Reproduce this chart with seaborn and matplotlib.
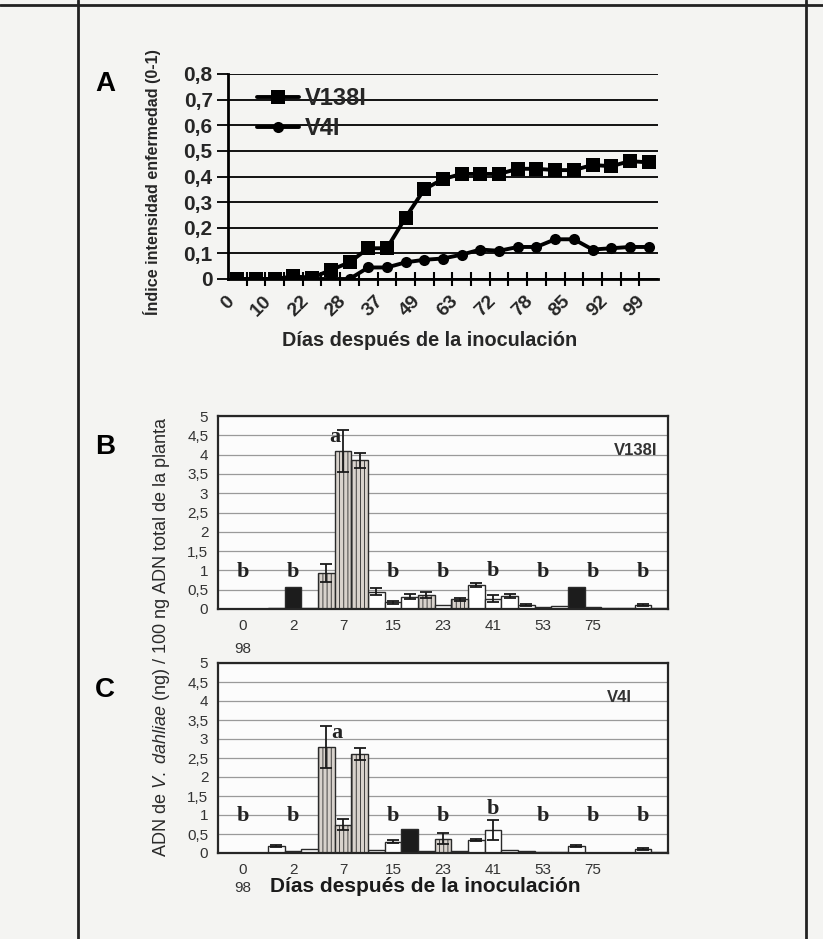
import matplotlib
matplotlib.use('Agg')
import numpy as np
import pandas as pd
import matplotlib.pyplot as plt
import seaborn as sns
from matplotlib.ticker import FuncFormatter, FixedLocator
from matplotlib.lines import Line2D

# ---------------- data ----------------
a_labels = ['0', '10', '22', '28', '37', '49', '63', '72', '78', '85', '92', '99']
a_v138i = [0.0, 0.0, 0.0, 0.01, 0.005, 0.035, 0.065, 0.12, 0.12, 0.24, 0.35, 0.39,
           0.41, 0.41, 0.41, 0.43, 0.43, 0.425, 0.425, 0.445, 0.44, 0.46, 0.455]
a_v4i = [0.0, 0.0, 0.0, 0.0, 0.0, 0.0, 0.0, 0.045, 0.045, 0.065, 0.075, 0.08,
         0.095, 0.115, 0.11, 0.125, 0.125, 0.155, 0.155, 0.115, 0.12, 0.125, 0.125]
series_names = ['V138I', 'V4I']

bc_days = ['0', '2', '7', '15', '23', '41', '53', '75', '98']
b_values = [0.0, 0.0, 0.0, 0.03, 0.57, 0.03, 0.93, 4.1, 3.85, 0.45, 0.17, 0.32,
            0.36, 0.1, 0.25, 0.62, 0.27, 0.33, 0.1, 0.06, 0.07, 0.58, 0.04, 0.03,
            0.03, 0.11, 0.03]
b_errors = [0, 0, 0, 0, 0, 0, 0.24, 0.55, 0.2, 0.1, 0.03, 0.06,
            0.07, 0, 0.04, 0.06, 0.08, 0.05, 0.02, 0, 0, 0, 0, 0,
            0, 0.02, 0]
b_fills = list('wwwwkwgggwwwgwgwwwwwwkwwwww')
b_letters = ['b', 'b', 'a', 'b', 'b', 'b', 'b', 'b', 'b']
b_tag = 'V138I'

c_values = [0.0, 0.0, 0.0, 0.19, 0.04, 0.1, 2.8, 0.75, 2.6, 0.08, 0.3, 0.62,
            0.05, 0.38, 0.05, 0.34, 0.6, 0.08, 0.04, 0.03, 0.03, 0.18, 0.01, 0.01,
            0.01, 0.1, 0.02]
c_errors = [0, 0, 0, 0.02, 0, 0, 0.55, 0.15, 0.16, 0, 0.03, 0,
            0, 0.15, 0, 0.02, 0.27, 0, 0, 0, 0, 0.02, 0, 0,
            0, 0.02, 0]
c_fills = list('wwwwwwgggwwkwgwwwwwwwwwwwww')
c_letters = ['b', 'b', 'a', 'b', 'b', 'b', 'b', 'b', 'b']
c_tag = 'V4I'

xlabel_txt = 'Días después de la inoculación'
ylabel_a = 'Índice intensidad enfermedad (0-1)'
ylabel_bc = r'ADN de $\mathit{V.\ dahliae}$ (ng) / 100 ng ADN total de la planta'

# ---------------- style ----------------
sns.set_style('white')
plt.rcParams['font.family'] = ['Liberation Sans', 'DejaVu Sans']
plt.rcParams['mathtext.fontset'] = 'custom'
plt.rcParams['mathtext.rm'] = 'Liberation Sans'
plt.rcParams['mathtext.it'] = 'Liberation Sans:italic'
plt.rcParams['hatch.linewidth'] = 0.6
plt.rcParams['hatch.color'] = '#a59e97'

W, H = 823, 939
fig = plt.figure(figsize=(W / 100, H / 100), dpi=100, facecolor='#f4f4f2')


def rect(x0, x1, y0, y1):
    return [x0 / W, 1 - y1 / H, (x1 - x0) / W, (y1 - y0) / H]


axA = fig.add_axes(rect(228, 658, 74, 279))
axB = fig.add_axes(rect(218, 668, 416, 609))
axC = fig.add_axes(rect(218, 668, 663, 853))

comma = FuncFormatter(lambda v, p: ('%g' % round(v, 2)).replace('.', ','))

# ---------------- panel A ----------------
n = len(a_v138i)
dfA = pd.DataFrame({'idx': list(range(n)) * 2,
                    'value': a_v138i + a_v4i,
                    'serie': [series_names[0]] * n + [series_names[1]] * n})
sns.lineplot(data=dfA, x='idx', y='value', hue='serie', style='serie',
             markers={series_names[0]: 's', series_names[1]: 'o'}, dashes=False,
             palette={series_names[0]: 'black', series_names[1]: 'black'},
             linewidth=2.8, markersize=9.5, markeredgewidth=0, ax=axA, legend=False)
for ln in axA.lines:
    if ln.get_marker() == 'o':
        ln.set_markersize(8)
axA.set_facecolor('none')
axA.set_xlim(-0.5, n - 0.5)
axA.set_ylim(0, 0.8)
axA.set_yticks(np.arange(0, 0.81, 0.1))
axA.yaxis.set_major_formatter(comma)
axA.yaxis.grid(True, color='black', lw=1.3)
axA.set_axisbelow(True)
axA.set_xticks(range(0, n, 2))
axA.set_xticklabels(a_labels, rotation=45, ha='right', va='top',
                    fontsize=14, fontweight='bold')
axA.xaxis.set_minor_locator(FixedLocator([i + 0.5 for i in range(n - 1)]))
axA.tick_params(axis='x', which='major', length=0, pad=10)
axA.tick_params(axis='x', which='minor', length=10, width=1.5,
                direction='inout', bottom=True, color='black')
axA.tick_params(axis='y', length=8, width=1.3, direction='out', left=True,
                color='black', pad=3, labelsize=15)
for lab in axA.get_yticklabels():
    lab.set_fontweight('bold')
for s in ['top', 'right']:
    axA.spines[s].set_visible(False)
for s in ['left', 'bottom']:
    axA.spines[s].set_linewidth(2)
    axA.spines[s].set_color('black')
axA.set_xlabel(xlabel_txt, fontsize=14.3, fontweight='bold')
axA.xaxis.set_label_coords((430 - 228) / 430, (279 - 340) / 205)
axA.xaxis.label.set_va('center')
axA.set_ylabel(ylabel_a, fontsize=11.6, fontweight='bold')
axA.yaxis.set_label_coords((152 - 228) / 430, (279 - 182) / 205)
axA.yaxis.label.set_va('center')
leg = axA.legend(axA.lines[:2], series_names, loc='upper left',
                 bbox_to_anchor=(0.067, 0.935), borderaxespad=0, borderpad=0,
                 frameon=False, handlelength=1.8, handletextpad=0.25,
                 labelspacing=0.3, prop={'size': 17, 'weight': 'bold'})


# ---------------- panels B / C ----------------
def bar_panel(ax, values, errors, fills, letters, tag, tag_x, gap98):
    nslot = len(values) // len(bc_days)
    slots = ['s%d' % k for k in range(nslot)]
    df = pd.DataFrame({'day': np.repeat(bc_days, nslot),
                       'slot': slots * len(bc_days),
                       'value': values})
    sns.barplot(data=df, x='day', y='value', hue='slot', order=bc_days,
                hue_order=slots, palette=['white'] * nslot, width=1.0, gap=0,
                dodge=True, errorbar=None, legend=False, saturation=1,
                edgecolor='#2a2a2a', linewidth=1.0, ax=ax)
    fill_map = {'w': '#ffffff', 'k': '#1c1c1c', 'g': '#d8d2cc'}
    bars = sorted(ax.patches, key=lambda p: p.get_x())
    for p, f in zip(bars, fills):
        p.set_facecolor(fill_map[f])
        if f == 'g':
            p.set_hatch('||||')
            if hasattr(p, 'set_hatchcolor'):
                p.set_hatchcolor('#a59e97')
    xs = [p.get_x() + p.get_width() / 2 for p in bars]
    for x, v, e in zip(xs, values, errors):
        if e > 0:
            ax.errorbar(x, v, yerr=e, fmt='none', ecolor='#1a1a1a',
                        elinewidth=1.3, capsize=4, capthick=1.3, zorder=5)
    for gi, L in enumerate(letters):
        grp = list(range(gi * nslot, (gi + 1) * nslot))
        tops = [values[i] + errors[i] for i in grp]
        top = max(tops)
        if L == 'a':
            k = int(np.argmax(tops))
            xk = xs[grp[k]]
            dx = 0.2 if k == 0 else -0.16
            ax.text(xk + dx, top - 0.2, L, ha='center', va='center',
                    fontsize=16, fontweight='bold', family='Liberation Serif',
                    color='#222222', zorder=6)
        else:
            ax.text(gi, max(0.97, top + 0.3), L, ha='center', va='center',
                    fontsize=16, fontweight='bold', family='Liberation Serif',
                    color='#222222', zorder=6)
    ax.set_facecolor('#fcfcfc')
    ax.set_xlim(-0.5, len(bc_days) - 0.5)
    ax.set_ylim(0, 5)
    ax.set_yticks(np.arange(0, 5.01, 0.5))
    ax.yaxis.set_major_formatter(comma)
    ax.yaxis.grid(True, color='#9a9a9a', lw=0.9)
    ax.set_axisbelow(True)
    ax.set_xticks(range(len(bc_days)))
    labs = [bc_days[0] + '\n' + bc_days[-1]] + bc_days[1:-1] + ['']
    ax.set_xticklabels(labs, fontsize=11, color='#333333')
    ax.get_xticklabels()[0].set_linespacing(gap98)
    ax.tick_params(axis='x', length=0, pad=7)
    ax.tick_params(axis='y', length=0, pad=7, labelsize=11, labelcolor='#333333')
    ax.set_xlabel('')
    ax.set_ylabel('')
    for s in ax.spines.values():
        s.set_visible(True)
        s.set_linewidth(1.6)
        s.set_color('#262626')
    ax.text(tag_x, 0.82, tag, transform=ax.transAxes, ha='center', va='center',
            fontsize=12, fontweight='bold', color='#333333')


bar_panel(axB, b_values, b_errors, b_fills, b_letters, b_tag, 0.927, 1.8)
bar_panel(axC, c_values, c_errors, c_fills, c_letters, c_tag, 0.893, 1.35)

fig.text(161 / W, 1 - 637 / H, ylabel_bc, rotation=90, ha='center', va='center',
         fontsize=13, color='#2a2a2a')
fig.text(425 / W, 1 - 886 / H, xlabel_txt, ha='center', va='center',
         fontsize=15, fontweight='bold', color='#1a1a1a')

for letter, yy in [('A', 84), ('B', 447), ('C', 690)]:
    fig.text(105 / W, 1 - yy / H, letter, ha='center', va='center',
             fontsize=20, fontweight='bold', color='black')

# page frame
for xx in (78, 806):
    fig.add_artist(Line2D([xx / W, xx / W], [0, 1], color='#222222', lw=2,
                          transform=fig.transFigure))
fig.add_artist(Line2D([0, 1], [1 - 5 / H, 1 - 5 / H], color='#222222', lw=2,
                      transform=fig.transFigure))

fig.savefig('out.png', dpi=100, facecolor=fig.get_facecolor())
